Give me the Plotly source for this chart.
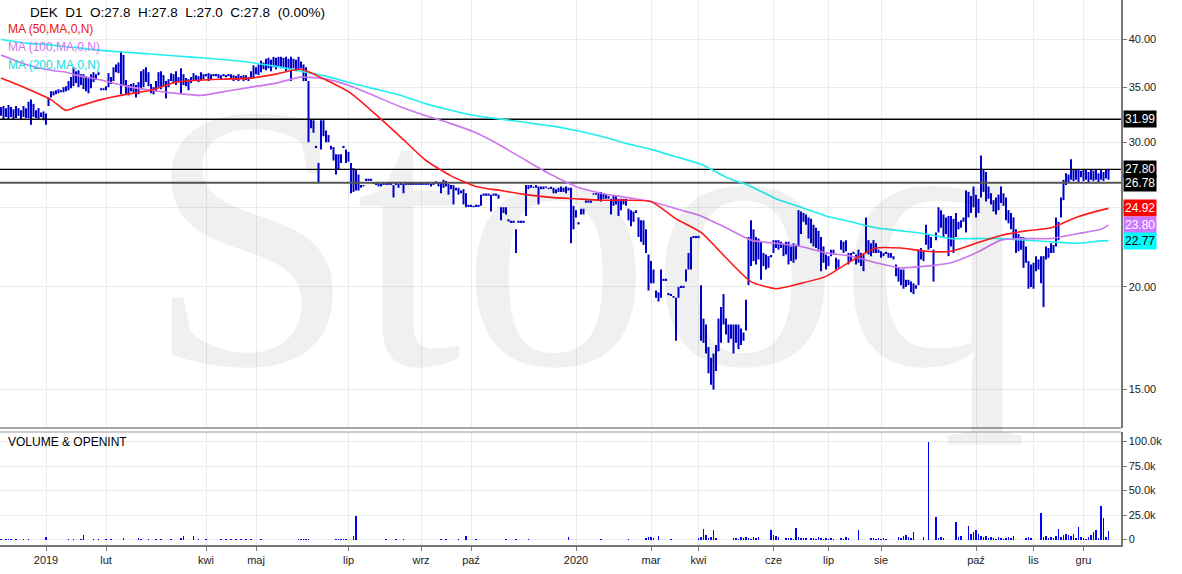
import math
import plotly.graph_objects as go

# ---------------- data ----------------
bar_high = [
    33.1,33.2,33.0,33.3,33.1,32.9,33.2,33.0,32.8,33.2,
    33.0,33.6,33.8,33.4,32.8,33.0,32.6,32.7,32.5,34.0,
    34.6,34.6,34.7,34.8,34.7,35.0,35.1,35.6,36.0,37.0,
    36.6,36.7,36.3,36.3,36.1,36.0,36.3,36.5,36.3,36.5,
    34.9,34.9,35.1,36.4,36.0,37.0,37.3,37.5,38.6,38.3,
    35.7,35.2,35.3,35.4,35.2,35.5,36.6,36.8,37.0,36.5,
    35.3,35.0,35.6,36.5,36.6,36.2,35.6,35.8,36.4,36.3,
    36.6,36.0,36.9,36.3,35.9,35.8,36.0,36.4,36.2,36.1,
    36.5,36.3,36.2,36.4,36.3,36.2,36.2,36.3,36.2,36.2,
    36.1,36.2,36.3,36.2,36.1,36.3,36.1,36.2,36.2,36.0,
    36.6,37.2,37.0,37.3,37.7,37.5,37.9,38.0,37.8,38.1,
    38.0,38.1,38.1,38.0,38.1,37.9,38.1,37.9,37.8,38.1,
    37.6,37.3,37.0,35.6,32.0,31.9,29.6,28.3,31.9,31.9,
    31.0,30.6,29.7,29.6,29.0,29.0,29.0,29.6,29.4,29.2,
    28.3,27.9,27.8,27.4,26.6,26.6,27.0,27.0,27.0,26.8,
    26.8,26.8,26.7,26.7,26.7,26.7,26.7,26.6,26.7,26.7,
    26.7,26.7,26.7,26.7,26.7,26.7,26.7,26.7,26.7,26.7,
    26.7,26.7,26.7,26.7,26.8,26.8,26.8,27.0,26.9,26.7,
    26.6,26.6,26.4,26.4,26.2,26.3,26.0,25.1,25.1,25.1,
    25.1,25.1,25.9,25.9,25.9,25.9,25.9,25.9,25.9,25.9,
    25.0,25.0,25.0,24.1,24.0,24.0,23.5,24.0,24.0,24.0,
    26.6,26.6,26.6,26.5,26.6,26.5,26.5,26.5,26.5,26.4,
    26.4,26.4,26.3,26.4,26.5,26.4,26.5,26.4,26.4,25.1,
    24.8,23.9,24.9,24.9,25.4,25.4,25.4,26.0,26.0,26.1,
    26.1,26.0,25.9,25.8,25.6,25.8,25.8,25.6,25.6,25.6,
    25.6,24.9,24.8,24.7,24.8,24.3,24.1,24.1,23.5,21.9,
    21.5,21.0,19.8,19.7,21.0,20.4,20.4,19.6,19.6,19.5,
    19.4,20.0,20.0,20.0,21.0,22.0,23.0,23.0,23.0,23.0,
    20.1,18.3,18.0,16.9,16.4,16.6,17.0,18.3,18.9,19.6,
    18.3,18.0,18.0,18.0,18.0,18.0,17.8,17.6,19.3,23.0,
    24.1,23.5,23.0,22.9,22.7,22.0,21.9,21.8,21.8,22.8,
    22.8,22.8,22.7,22.6,22.7,22.7,22.4,22.6,22.5,24.8,
    24.7,24.6,24.5,24.3,24.2,23.8,23.6,23.4,23.0,22.4,
    21.9,21.8,22.2,22.2,21.7,21.6,22.8,22.7,22.8,22.0,
    22.0,22.0,21.9,22.2,22.0,21.9,24.3,22.8,22.6,22.8,
    22.6,22.2,22.1,22.0,22.0,22.0,22.0,21.8,21.3,21.1,
    21.0,21.0,20.4,20.4,20.3,20.2,20.1,22.2,22.3,22.1,
    23.8,23.2,23.0,22.2,23.3,25.0,24.8,24.5,24.3,24.4,
    24.4,24.2,24.6,24.0,24.1,24.3,26.2,26.1,25.8,26.5,
    25.9,25.6,28.9,27.8,27.6,26.5,26.0,25.5,25.7,25.9,
    26.5,26.0,25.7,24.8,24.6,24.3,23.5,23.2,23.0,23.0,
    22.4,21.5,21.3,21.4,21.8,21.6,21.8,21.8,22.4,22.3,
    22.6,22.5,24.3,24.0,25.7,27.0,27.5,27.4,28.6,27.8,
    27.8,27.8,27.7,27.8,27.8,27.6,27.8,27.7,27.8,27.5,
    27.8,27.6,27.8,27.8,
]
bar_low = [
    32.3,32.0,32.2,32.0,32.2,32.0,32.1,32.3,32.0,32.2,
    32.1,32.1,31.5,32.2,32.1,32.0,32.2,31.9,31.5,33.2,
    34.0,34.2,34.3,34.4,34.5,34.5,34.6,34.7,34.9,35.1,
    35.4,35.0,35.2,34.8,34.6,34.4,34.9,35.5,35.7,36.2,
    34.7,34.7,34.7,35.0,35.3,35.6,36.5,36.4,34.3,35.2,
    34.3,34.2,34.6,34.5,34.0,34.3,34.8,35.0,35.5,35.1,
    34.4,34.3,34.6,35.0,34.8,35.1,33.9,35.0,35.6,35.4,
    35.2,35.5,34.3,35.2,35.1,34.7,35.4,35.7,35.6,35.5,
    35.7,35.8,36.2,35.6,35.8,36.2,36.2,35.9,35.7,36.2,
    36.1,36.2,35.8,35.6,35.7,35.6,35.8,35.6,35.7,35.6,
    35.8,35.9,36.3,36.2,36.5,36.8,36.7,36.9,36.6,37.0,
    36.8,37.1,36.9,37.0,36.6,36.8,35.6,36.9,36.6,36.8,
    36.9,35.6,35.6,30.0,31.2,30.8,29.6,26.8,29.4,30.5,
    30.0,30.0,29.4,28.5,27.4,27.8,28.3,29.6,28.3,28.4,
    26.0,26.1,26.2,26.2,26.4,26.5,27.0,27.0,27.0,26.7,
    26.6,26.5,26.5,26.7,26.7,26.7,26.7,25.7,26.7,26.4,
    26.7,26.0,26.7,26.7,26.7,26.7,26.7,26.7,26.7,26.7,
    26.7,26.7,26.5,26.7,26.8,26.5,26.0,26.4,26.5,25.9,
    26.3,25.2,26.2,25.9,26.0,25.2,25.0,25.1,25.1,25.0,
    25.1,25.1,25.1,25.9,25.9,25.9,24.7,25.9,25.9,25.6,
    24.1,24.6,24.5,24.1,24.0,24.0,22.0,24.0,24.0,24.0,
    24.4,26.3,26.4,26.4,26.4,25.2,26.3,26.3,26.4,26.3,
    26.4,26.0,26.0,26.1,26.1,26.1,26.0,26.2,22.6,23.5,
    24.3,23.9,24.5,24.5,25.4,25.4,25.4,25.9,25.9,25.5,
    25.4,25.6,25.6,25.6,24.5,25.1,25.2,24.4,24.8,25.2,
    25.1,24.1,23.7,24.0,24.6,23.0,22.7,22.5,22.0,19.8,
    20.2,20.2,19.4,19.2,19.4,20.4,20.4,19.6,19.5,19.4,
    17.2,19.4,20.0,20.0,20.3,21.0,21.0,23.0,23.0,23.0,
    17.2,17.1,16.6,15.7,15.2,15.0,15.8,16.7,17.1,18.0,
    17.5,17.1,17.3,16.6,17.1,16.8,17.0,17.2,17.7,20.1,
    21.2,21.5,21.3,21.6,20.4,21.2,21.0,21.1,21.8,22.0,
    22.3,22.2,22.3,21.8,21.9,21.3,21.5,21.4,21.6,22.4,
    23.2,24.0,23.8,22.9,22.6,22.4,22.3,22.2,20.9,21.4,
    21.0,21.2,21.8,21.9,21.0,21.1,22.2,22.0,22.1,21.3,
    21.5,22.0,21.3,21.4,21.2,20.9,22.0,21.9,21.8,22.0,
    22.0,22.0,21.7,21.8,22.0,21.7,21.7,21.6,20.6,20.3,
    20.1,19.9,20.0,20.1,19.7,19.6,19.9,20.1,21.6,21.5,
    22.5,22.2,22.3,20.3,22.8,23.3,23.6,23.0,23.2,21.8,
    22.4,22.0,23.0,23.5,23.6,24.0,23.3,24.3,24.6,25.0,
    24.3,24.6,25.7,26.1,25.4,25.6,25.2,24.7,24.5,24.8,
    25.3,25.1,24.1,23.9,23.5,22.8,22.0,22.1,22.2,21.1,
    21.4,19.9,20.0,19.9,20.9,21.0,20.2,18.9,21.6,21.7,
    22.0,22.0,22.4,22.8,24.3,25.5,26.6,26.8,27.0,26.9,
    27.0,26.8,27.2,26.9,27.0,26.8,27.0,26.9,27.0,26.8,
    27.0,26.9,27.1,27.0,
]
volume_k = [
    1,0,1,1,1,0,1,0,0,1,  0,1,0,0,0,0,0,0,3,0,
    0,0,0,0,0,0,0,1,0,1,  0,0,1,5,0,0,0,1,0,1,
    0,0,1,0,1,0,0,0,0,2,  0,0,0,0,0,2,1,0,0,1,
    0,0,1,0,1,0,0,0,1,0,  0,0,2,4,0,0,0,4,0,1,
    0,0,1,0,0,0,0,0,1,0,  1,0,1,0,1,0,1,0,1,0,
    1,0,0,0,1,0,0,0,0,0,  0,0,0,0,0,0,0,0,0,1,
    1,1,1,1,0,0,0,0,0,0,  0,0,0,0,1,1,1,1,1,0,
    0,4,24,0,0,0,0,0,0,0, 0,0,0,0,1,0,0,0,1,0,
    0,1,0,0,0,0,0,0,0,0,  0,0,0,0,0,0,1,0,1,0,
    0,0,0,1,0,0,4,0,0,0,  1,0,0,0,0,0,0,0,0,0,
    0,0,1,0,0,0,1,0,0,0,  0,1,0,0,0,0,0,0,0,0,
    0,0,0,0,0,0,0,3,0,0,  0,0,0,0,0,0,0,0,0,0,
    1,0,0,0,0,0,0,0,0,0,  0,1,0,0,0,0,0,0,2,3,
    3,2,0,4,0,0,0,0,1,0,  0,0,0,0,0,0,0,0,0,2,
    3,11,5,2,3,10,2,0,0,0, 0,0,0,2,2,1,3,2,3,2,
    1,3,2,3,0,0,0,0,10,5, 4,3,0,0,2,2,2,1,12,3,
    2,2,2,0,2,2,1,3,2,1,  2,1,2,1,0,0,2,1,3,2,
    0,0,0,10,0,0,0,0,2,2, 1,2,1,2,1,0,0,0,0,3,
    2,4,5,3,2,8,0,0,0,3,  0,100,0,0,23,2,3,2,0,0,
    0,0,18,3,4,0,0,14,6,8, 10,6,4,3,4,2,3,2,1,3,
    2,1,2,3,2,4,0,0,0,0,  2,3,2,0,0,0,27,3,4,2,
    3,2,4,11,3,5,6,5,4,6, 2,13,3,2,1,3,5,8,10,2,
    34,22,3,9,
]
ma_idx = [0,10,20,26,30,40,50,60,70,80,90,100,110,120,130,140,150,160,170,180,
          190,200,210,220,230,240,250,260,270,280,290,300,310,320,330,340,350,
          360,370,380,390,400,410,420,430,440,443]
ma50 = [35.9,34.9,33.8,32.8,33.1,33.8,34.3,34.7,35.5,35.7,35.8,35.9,36.3,36.8,35.7,34.4,
        32.4,30.4,28.5,27.3,26.5,26.2,25.9,25.7,25.6,25.5,25.5,25.4,24.2,23.3,21.7,20.3,
        19.9,20.2,20.6,21.5,22.3,22.3,22.1,22.1,22.6,23.1,23.4,23.6,24.3,24.8,24.92]
ma100 = [38.3,37.3,36.7,36.5,36.2,35.7,35.1,34.7,34.4,34.2,34.6,35.0,35.4,36.0,35.8,35.1,
         34.1,33.1,32.3,31.6,30.8,29.7,28.5,27.4,26.5,26.0,25.7,25.4,24.9,24.4,23.6,22.8,
         22.6,22.4,22.0,21.8,21.4,21.1,21.2,21.4,22.0,22.8,22.9,22.9,23.2,23.5,23.80]
ma200 = [40.0,39.6,39.4,39.2,39.1,38.8,38.6,38.4,38.2,38.0,37.8,37.5,37.1,36.6,36.1,35.4,
         34.8,34.2,33.4,32.8,32.3,32.0,31.7,31.4,31.0,30.5,29.9,29.4,28.8,28.2,27.2,26.5,
         25.6,25.0,24.4,24.0,23.6,23.4,23.2,22.9,22.9,22.9,22.8,22.7,22.6,22.75,22.77]
tick_pos = [18, 42, 82, 102, 139, 168, 188, 230, 260, 279, 309, 331, 352, 390, 413, 433]
tick_labels = ['2019', 'lut', 'kwi', 'maj', 'lip', 'wrz', 'paź', '2020', 'mar', 'kwi',
               'cze', 'lip', 'sie', 'paź', 'lis', 'gru']
levels = [31.99, 27.80, 26.78]
price_ticks = [15, 20, 25, 30, 35, 40]
price_tick_text = ['15.00', '20.00', '', '30.00', '35.00', '40.00']
vol_ticks = [0, 25, 50, 75, 100]
vol_tick_text = ['0', '25.0k', '50.0k', '75.0k', '100.0k']

# ---------------- figure ----------------
BLUE = '#0000cc'
XR = [-0.4, 448.0]
n = min(len(bar_high), len(bar_low))

fig = go.Figure()

seg_x, seg_y, dot_x, dot_y = [], [], [], []
for i in range(n):
    h, l = bar_high[i], bar_low[i]
    if h > l:
        seg_x += [i, i, None]
        seg_y += [l, h, None]
    else:
        dot_x.append(i)
        dot_y.append(h)

fig.add_trace(go.Scatter(x=seg_x, y=seg_y, mode='lines', line=dict(color=BLUE, width=2),
                         hoverinfo='skip', showlegend=False, yaxis='y'))
fig.add_trace(go.Scatter(x=dot_x, y=dot_y, mode='markers',
                         marker=dict(symbol='square', size=2.2, color=BLUE, line=dict(width=0)),
                         hoverinfo='skip', showlegend=False, yaxis='y'))

lvl_colors = ['#000000', '#000000', '#555555']
lvl_widths = [1.3, 1.3, 2]
for v, c, w in zip(levels, lvl_colors, lvl_widths):
    fig.add_trace(go.Scatter(x=XR, y=[v, v], mode='lines', line=dict(color=c, width=w),
                             hoverinfo='skip', showlegend=False, yaxis='y'))

for vals, col in [(ma200, '#22eeee'), (ma100, '#cc77ee'), (ma50, '#ff1a1a')]:
    fig.add_trace(go.Scatter(x=ma_idx, y=vals, mode='lines',
                             line=dict(color=col, width=1.6, shape='spline', smoothing=0.6),
                             hoverinfo='skip', showlegend=False, yaxis='y'))

fig.add_trace(go.Bar(x=list(range(len(volume_k))), y=volume_k, width=0.5,
                     marker=dict(color='#0000ff', line=dict(width=0)),
                     hoverinfo='skip', showlegend=False, yaxis='y2'))

H_PLOT = 545.0
def py(p):
    return (H_PLOT - p) / H_PLOT

PRICE_BOTTOM = py(428)
VOL_TOP = py(432)

GRID = '#ebebeb'
AX = '#777777'
tickfont = dict(family='Liberation Sans, Arial, sans-serif', size=11, color='#222222')

fig.update_layout(
    width=1182, height=574,
    margin=dict(l=0, r=61, t=0, b=29),
    paper_bgcolor='white', plot_bgcolor='white',
    showlegend=False,
    bargap=0,
    xaxis=dict(range=XR, tickvals=tick_pos, ticktext=tick_labels, showgrid=True,
               gridcolor=GRID, gridwidth=1, ticks='outside', ticklen=4, tickcolor=AX,
               showline=True, linecolor=AX, linewidth=1.5, zeroline=False, anchor='y2',
               tickfont=tickfont),
    yaxis=dict(type='log', range=[math.log10(13.47), math.log10(44.68)],
               domain=[PRICE_BOTTOM, 1.0], side='right', tickvals=price_ticks,
               ticktext=price_tick_text, showgrid=True, gridcolor=GRID, ticks='outside',
               ticklen=4, tickcolor=AX, showline=True, linecolor=AX, linewidth=1.5,
               zeroline=False, anchor='x', tickfont=tickfont),
    yaxis2=dict(range=[-5.6, 109.7], domain=[0, VOL_TOP], side='right',
                tickvals=vol_ticks, ticktext=vol_tick_text, showgrid=True, gridcolor=GRID,
                ticks='outside', ticklen=4, tickcolor=AX, showline=True, linecolor=AX,
                linewidth=1.5, zeroline=False, anchor='x', tickfont=tickfont),
)

# panel separators
fig.add_shape(type='line', xref='paper', yref='paper', x0=0, x1=1, y0=PRICE_BOTTOM,
              y1=PRICE_BOTTOM, line=dict(color='#888888', width=1.5))
fig.add_shape(type='line', xref='paper', yref='paper', x0=0, x1=1, y0=VOL_TOP,
              y1=VOL_TOP, line=dict(color='#999999', width=1))

ann = []
# watermark
ann.append(dict(text='Stooq', xref='paper', yref='paper', x=587 / 1121, y=py(237),
                xanchor='center', yanchor='middle', showarrow=False,
                font=dict(family='Liberation Serif, Times New Roman, serif', size=378,
                          color='rgba(0,0,0,0.06)')))
NB = '\u00a0'
hdr = ('DEK' + NB * 2 + 'D1' + NB * 2 + 'O:27.8' + NB * 2 + 'H:27.8' + NB * 2 + 'L:27.0'
       + NB * 2 + 'C:27.8' + NB * 2 + '(0.00%)')
ann.append(dict(text=hdr, xref='paper', yref='paper', x=28 / 1121, y=py(12), xanchor='left',
                yanchor='middle', showarrow=False,
                font=dict(family='Liberation Sans, Arial, sans-serif', size=13.5, color='#000')))
for txt, col, yy in [('MA (50,MA,0,N)', '#ee1111', 29), ('MA (100,MA,0,N)', '#cc77ee', 47),
                     ('MA (200,MA,0,N)', '#11dddd', 65)]:
    ann.append(dict(text=txt, xref='paper', yref='paper', x=6 / 1121, y=py(yy),
                    xanchor='left', yanchor='middle', showarrow=False,
                    font=dict(family='Liberation Sans, Arial, sans-serif', size=12, color=col)))
ann.append(dict(text='VOLUME & OPENINT', xref='paper', yref='paper', x=6 / 1121, y=py(442),
                xanchor='left', yanchor='middle', showarrow=False,
                font=dict(family='Liberation Sans, Arial, sans-serif', size=12, color='#000')))

labels = [(levels[0], '#000000', 'white'), (levels[1], '#000000', 'white'),
          (levels[2], '#000000', 'white'), (ma50[-1], '#ff0000', 'white'),
          (ma100[-1], '#cc77ff', 'white'), (ma200[-1], '#00ffff', '#000000')]
for v, bg, fc in labels:
    ann.append(dict(text='%.2f' % v, xref='paper', yref='y', x=1.0, y=math.log10(v),
                    xanchor='left', yanchor='middle', xshift=2, showarrow=False,
                    bgcolor=bg, borderpad=1,
                    font=dict(family='Liberation Sans, Arial, sans-serif', size=12, color=fc)))
fig.update_layout(annotations=ann)

fig.write_html('out.html', config={'displayModeBar': False, 'staticPlot': True},
               post_script="document.body.style.margin='0';document.body.style.padding='0';")
